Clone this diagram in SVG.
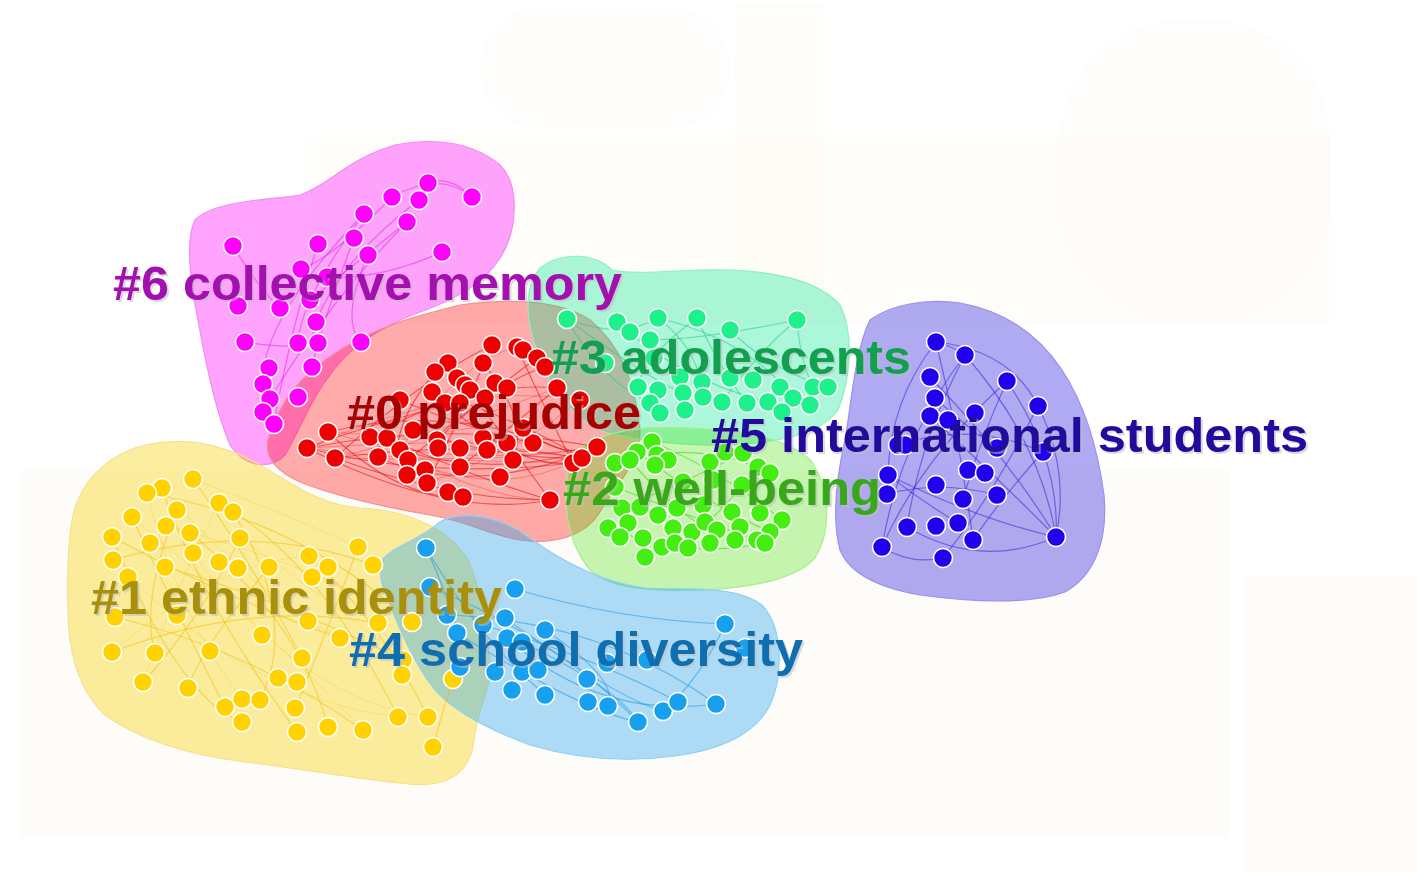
<svg xmlns="http://www.w3.org/2000/svg" width="1417" height="872" viewBox="0 0 1417 872">
<style>
.bg{fill:#fdfbf5}
.hull{stroke-width:1.2}
.e{fill:none;stroke-width:1.2;stroke-opacity:0.5}
.f{fill:none;stroke-width:0.8;stroke-opacity:0.35}
.n circle{stroke:#fff;stroke-width:1.6}
.lbl{font-family:"Liberation Sans",Arial,sans-serif;font-weight:bold;font-size:48px}
.sh{fill:#bdbdbd;fill-opacity:0.55}
</style>
<rect width="1417" height="872" fill="#ffffff"/>
<g id="background" fill-opacity="0.7">
<rect class="bg" x="20" y="470" width="1210" height="368"/>
<rect class="bg" x="1245" y="575" width="172" height="297"/>
<rect class="bg" x="310" y="135" width="1020" height="190" fill-opacity="0.5"/>
<rect class="bg" x="735" y="5" width="90" height="320" fill-opacity="0.6"/>
<rect class="bg" x="480" y="8" width="250" height="120" rx="60" fill-opacity="0.4"/>
<rect class="bg" x="1060" y="20" width="270" height="300" rx="120" fill-opacity="0.4"/>
</g>
<g id="hulls">
<path class="hull" fill="#ff00ff" fill-opacity="0.36" stroke="#f08cf0" d="M195,220 C215,200 270,200 300,195 C330,185 345,160 395,145 C430,138 470,140 500,165 C520,185 518,230 500,258 C485,282 455,300 420,312 C385,325 350,345 330,375 C310,400 300,430 285,455 C270,470 245,468 230,445 C215,410 205,360 198,320 C190,280 185,240 195,220 Z"/>
<path class="hull" fill="#ff0000" fill-opacity="0.33" stroke="#f09090" d="M268,440 C280,400 300,375 340,350 C380,325 420,315 460,305 C510,298 560,300 590,320 C620,345 635,380 640,430 C640,465 615,485 598,515 C585,535 555,545 520,540 C490,535 470,522 430,515 C390,508 340,498 300,482 C278,472 264,458 268,440 Z"/>
<path class="hull" fill="#00e690" fill-opacity="0.33" stroke="#8eeec0" d="M540,268 C560,252 595,252 612,270 C640,276 690,268 730,270 C780,272 820,282 840,305 C855,335 850,380 838,410 C820,435 780,442 730,445 C680,446 630,440 598,430 C565,410 545,380 535,345 C525,315 525,285 540,268 Z"/>
<path class="hull" fill="#40e000" fill-opacity="0.3" stroke="#a8ee90" d="M578,450 C600,432 640,425 690,428 C740,430 790,438 812,462 C830,490 832,530 815,558 C795,580 750,588 700,590 C650,592 610,588 590,570 C572,548 565,520 566,490 C567,470 570,458 578,450 Z"/>
<path class="hull" fill="#3020e0" fill-opacity="0.38" stroke="#9c90ee" d="M870,320 C890,305 925,298 960,303 C1000,310 1035,330 1062,370 C1085,405 1098,450 1104,495 C1108,540 1095,575 1065,592 C1030,605 970,602 920,595 C880,588 850,575 840,550 C832,520 836,480 845,440 C852,400 855,350 870,320 Z"/>
<path class="hull" fill="#f8d000" fill-opacity="0.37" stroke="#f5e090" d="M72,520 C78,485 105,455 145,445 C185,436 225,445 260,465 C295,485 320,505 360,508 C410,510 450,530 468,560 C482,590 485,625 490,660 C492,690 478,705 474,740 C470,775 445,790 400,783 C350,778 300,768 245,762 C190,755 140,740 105,715 C78,690 68,650 68,610 C67,575 68,545 72,520 Z"/>
<path class="hull" fill="#1ea0f0" fill-opacity="0.36" stroke="#8ed0f4" d="M382,560 C395,545 420,540 440,522 C460,510 500,515 530,538 C560,560 600,582 645,588 C690,590 735,585 762,605 C785,630 782,680 770,705 C755,735 720,750 675,756 C630,762 580,760 530,745 C490,730 455,712 435,690 C415,665 400,630 388,600 C380,582 378,570 382,560 Z"/>
</g>
<g id="connectors">
<g stroke="#e020e0">
<path class="e" d="M428,183 Q450,175 472,197"/><path class="e" d="M392,197 Q330,260 301,269"/><path class="e" d="M364,214 Q300,300 298,343"/><path class="e" d="M419,200 Q340,260 316,322"/><path class="e" d="M442,252 Q380,280 327,277"/><path class="e" d="M233,246 Q260,290 280,308"/><path class="e" d="M354,238 Q320,330 312,367"/><path class="e" d="M368,255 Q340,320 361,342"/><path class="e" d="M407,222 Q330,300 270,399"/><path class="e" d="M318,244 Q290,330 274,424"/><path class="e" d="M245,342 Q290,350 318,343"/><path class="e" d="M364,214 Q260,320 263,384"/><path class="e" d="M407,222 Q360,260 310,300"/><path class="e" d="M392,197 Q440,170 472,197"/>
</g>
<g stroke="#e00000">
<path class="e" d="M307,448 Q450,420 597,447"/><path class="e" d="M328,432 Q460,400 582,458"/><path class="e" d="M335,458 Q450,500 550,500"/><path class="e" d="M307,448 Q430,480 573,463"/><path class="e" d="M370,437 Q470,380 557,388"/><path class="e" d="M400,450 Q500,480 597,447"/><path class="e" d="M432,392 Q520,420 582,458"/><path class="e" d="M448,363 Q500,430 550,500"/><path class="e" d="M492,345 Q460,420 427,483"/><path class="e" d="M517,347 Q550,420 573,463"/><path class="e" d="M335,458 Q420,380 492,345"/><path class="e" d="M378,457 Q470,500 597,447"/><path class="e" d="M408,460 Q480,400 537,358"/><path class="e" d="M445,403 Q520,470 573,463"/><path class="e" d="M460,467 Q520,420 557,388"/><path class="e" d="M328,432 Q400,500 463,497"/><path class="e" d="M400,400 Q470,430 533,443"/><path class="e" d="M307,448 Q380,420 460,403"/><path class="e" d="M387,438 Q480,480 550,500"/><path class="e" d="M483,363 Q530,420 513,460"/><path class="e" d="M437,440 Q500,380 545,367"/><path class="e" d="M413,430 Q500,460 582,458"/><path class="e" d="M435,372 Q380,440 407,475"/><path class="e" d="M523,428 Q560,460 597,447"/><path class="e" d="M335,458 Q470,440 582,458"/><path class="e" d="M307,448 Q450,520 550,500"/>
<path class="f" d="M307,448 Q460,380 580,400"/><path class="f" d="M328,432 Q450,470 597,447"/><path class="f" d="M335,458 Q460,460 573,463"/><path class="f" d="M370,437 Q480,500 550,500"/><path class="f" d="M307,448 Q440,440 533,443"/><path class="f" d="M328,432 Q470,440 582,458"/><path class="f" d="M378,457 Q450,420 523,428"/><path class="f" d="M400,450 Q460,360 517,347"/><path class="f" d="M335,458 Q450,430 557,388"/><path class="f" d="M307,448 Q460,470 597,447"/><path class="f" d="M408,460 Q500,500 582,458"/><path class="f" d="M427,483 Q520,450 580,400"/>
</g>
<g stroke="#20c880">
<path class="e" d="M567,319 Q620,340 658,318"/><path class="e" d="M567,319 Q650,380 683,393"/><path class="e" d="M658,318 Q700,350 703,397"/><path class="e" d="M697,318 Q720,370 747,403"/><path class="e" d="M797,320 Q760,350 722,402"/><path class="e" d="M797,320 Q800,360 813,387"/><path class="e" d="M617,322 Q680,380 768,402"/><path class="e" d="M697,318 Q640,360 638,387"/><path class="e" d="M730,330 Q770,370 828,387"/><path class="e" d="M797,320 Q700,340 650,340"/><path class="e" d="M658,318 Q750,340 793,398"/><path class="e" d="M567,319 Q600,380 650,403"/>
</g>
<g stroke="#40c818">
<path class="e" d="M615,463 Q690,440 758,467"/><path class="e" d="M608,528 Q690,560 765,543"/><path class="e" d="M637,452 Q700,500 770,532"/><path class="e" d="M652,442 Q720,470 782,520"/><path class="e" d="M615,487 Q700,520 757,540"/><path class="e" d="M622,508 Q690,480 743,453"/><path class="e" d="M645,557 Q700,540 742,485"/><path class="e" d="M630,460 Q690,530 735,540"/>
</g>
<g stroke="#3018d8">
<path class="e" d="M936,342 Q960,440 973,540"/><path class="e" d="M965,355 Q1040,440 1056,537"/><path class="e" d="M1007,381 Q1060,460 1056,537"/><path class="e" d="M1007,381 Q920,460 882,547"/><path class="e" d="M936,342 Q890,400 888,475"/><path class="e" d="M930,377 Q1010,460 1056,537"/><path class="e" d="M1038,406 Q990,500 943,558"/><path class="e" d="M888,475 Q980,520 1056,537"/><path class="e" d="M882,547 Q910,565 943,558"/><path class="e" d="M898,445 Q970,420 1043,452"/><path class="e" d="M965,355 Q920,440 907,527"/><path class="e" d="M1007,381 Q980,440 963,499"/><path class="e" d="M887,494 Q940,480 997,495"/><path class="e" d="M935,398 Q970,430 997,448"/><path class="e" d="M936,342 Q950,345 965,355"/><path class="e" d="M907,527 Q980,570 1056,537"/><path class="e" d="M1043,452 Q1000,500 973,540"/><path class="e" d="M930,416 Q1000,480 1056,537"/><path class="e" d="M888,475 Q920,500 958,523"/><path class="e" d="M965,355 Q900,440 882,547"/><path class="e" d="M1038,406 Q1070,470 1056,537"/><path class="e" d="M936,342 Q1010,350 1038,406"/>
</g>
<g stroke="#f0c000">
<path class="e" d="M193,479 Q250,560 302,658"/><path class="e" d="M112,537 Q230,600 340,638"/><path class="e" d="M113,560 Q250,520 373,565"/><path class="e" d="M162,488 Q200,600 297,732"/><path class="e" d="M112,652 Q250,600 378,623"/><path class="e" d="M147,493 Q300,520 412,622"/><path class="e" d="M240,538 Q200,620 143,682"/><path class="e" d="M115,617 Q250,650 363,730"/><path class="e" d="M132,517 Q180,620 225,707"/><path class="e" d="M219,503 Q320,560 398,717"/><path class="e" d="M177,510 Q140,600 155,653"/><path class="e" d="M190,533 Q300,620 328,727"/><path class="e" d="M269,567 Q200,650 188,688"/><path class="e" d="M309,556 Q380,620 428,717"/><path class="e" d="M358,547 Q320,650 295,708"/><path class="e" d="M112,537 Q180,700 242,722"/><path class="e" d="M165,567 Q280,600 403,660"/><path class="e" d="M233,512 Q300,620 260,700"/><path class="e" d="M453,679 Q440,720 433,747"/>
<path class="f" d="M193,479 Q300,520 358,547"/><path class="f" d="M147,493 Q180,620 242,699"/><path class="f" d="M112,560 Q250,700 398,717"/><path class="f" d="M219,503 Q170,600 143,682"/><path class="f" d="M166,526 Q300,560 412,622"/><path class="f" d="M132,517 Q280,640 363,730"/><path class="f" d="M240,538 Q330,600 403,660"/><path class="f" d="M112,652 Q220,560 309,556"/><path class="f" d="M162,488 Q260,600 340,638"/><path class="f" d="M193,553 Q300,700 428,717"/>
</g>
<g stroke="#1890e0">
<path class="e" d="M426,548 Q480,640 545,695"/><path class="e" d="M430,587 Q560,640 638,722"/><path class="e" d="M447,615 Q600,620 716,704"/><path class="e" d="M505,618 Q620,700 663,711"/><path class="e" d="M457,633 Q580,710 638,722"/><path class="e" d="M515,589 Q620,620 725,624"/><path class="e" d="M483,625 Q600,660 678,702"/><path class="e" d="M545,630 Q620,680 608,706"/><path class="e" d="M507,638 Q600,720 716,704"/><path class="e" d="M426,548 Q450,600 457,633"/><path class="e" d="M522,642 Q620,690 638,722"/><path class="e" d="M725,624 Q700,680 663,711"/>
</g>
</g>
<g id="cluster-6" class="n" fill="#ff00ff">
<circle cx="428" cy="183" r="9.5"/><circle cx="392" cy="197" r="9.5"/><circle cx="419" cy="200" r="9.5"/><circle cx="472" cy="197" r="9.5"/><circle cx="364" cy="214" r="9.5"/><circle cx="407" cy="222" r="9.5"/><circle cx="233" cy="246" r="9.5"/><circle cx="318" cy="244" r="9.5"/><circle cx="354" cy="238" r="9.5"/><circle cx="368" cy="255" r="9.5"/><circle cx="442" cy="252" r="9.5"/><circle cx="301" cy="269" r="9.5"/><circle cx="327" cy="277" r="9.5"/><circle cx="310" cy="300" r="9.5"/><circle cx="238" cy="306" r="9.5"/><circle cx="280" cy="308" r="9.5"/><circle cx="316" cy="322" r="9.5"/><circle cx="245" cy="342" r="9.5"/><circle cx="298" cy="343" r="9.5"/><circle cx="318" cy="343" r="9.5"/><circle cx="361" cy="342" r="9.5"/><circle cx="269" cy="368" r="9.5"/><circle cx="312" cy="367" r="9.5"/><circle cx="263" cy="384" r="9.5"/><circle cx="298" cy="397" r="9.5"/><circle cx="270" cy="399" r="9.5"/><circle cx="263" cy="412" r="9.5"/><circle cx="274" cy="424" r="9.5"/>
</g>
<g id="cluster-0" class="n" fill="#ee0000">
<circle cx="492" cy="345" r="9.5"/><circle cx="517" cy="347" r="9.5"/><circle cx="523" cy="350" r="9.5"/><circle cx="537" cy="358" r="9.5"/><circle cx="545" cy="367" r="9.5"/><circle cx="448" cy="363" r="9.5"/><circle cx="435" cy="372" r="9.5"/><circle cx="483" cy="363" r="9.5"/><circle cx="457" cy="378" r="9.5"/><circle cx="465" cy="385" r="9.5"/><circle cx="470" cy="390" r="9.5"/><circle cx="495" cy="383" r="9.5"/><circle cx="507" cy="388" r="9.5"/><circle cx="557" cy="388" r="9.5"/><circle cx="432" cy="392" r="9.5"/><circle cx="485" cy="398" r="9.5"/><circle cx="445" cy="403" r="9.5"/><circle cx="460" cy="403" r="9.5"/><circle cx="580" cy="400" r="9.5"/><circle cx="400" cy="400" r="9.5"/><circle cx="328" cy="432" r="9.5"/><circle cx="307" cy="448" r="9.5"/><circle cx="335" cy="458" r="9.5"/><circle cx="370" cy="437" r="9.5"/><circle cx="387" cy="438" r="9.5"/><circle cx="378" cy="457" r="9.5"/><circle cx="400" cy="450" r="9.5"/><circle cx="408" cy="460" r="9.5"/><circle cx="413" cy="430" r="9.5"/><circle cx="437" cy="440" r="9.5"/><circle cx="438" cy="448" r="9.5"/><circle cx="460" cy="448" r="9.5"/><circle cx="483" cy="438" r="9.5"/><circle cx="487" cy="450" r="9.5"/><circle cx="507" cy="443" r="9.5"/><circle cx="533" cy="443" r="9.5"/><circle cx="523" cy="428" r="9.5"/><circle cx="513" cy="460" r="9.5"/><circle cx="500" cy="477" r="9.5"/><circle cx="460" cy="467" r="9.5"/><circle cx="425" cy="470" r="9.5"/><circle cx="407" cy="475" r="9.5"/><circle cx="427" cy="483" r="9.5"/><circle cx="448" cy="492" r="9.5"/><circle cx="463" cy="497" r="9.5"/><circle cx="550" cy="500" r="9.5"/><circle cx="573" cy="463" r="9.5"/><circle cx="582" cy="458" r="9.5"/><circle cx="597" cy="447" r="9.5"/>
</g>
<g id="cluster-3" class="n" fill="#1ef08c">
<circle cx="567" cy="319" r="9.5"/><circle cx="617" cy="322" r="9.5"/><circle cx="630" cy="332" r="9.5"/><circle cx="658" cy="318" r="9.5"/><circle cx="697" cy="318" r="9.5"/><circle cx="730" cy="330" r="9.5"/><circle cx="797" cy="320" r="9.5"/><circle cx="650" cy="340" r="9.5"/><circle cx="605" cy="363" r="9.5"/><circle cx="654" cy="358" r="9.5"/><circle cx="680" cy="377" r="9.5"/><circle cx="730" cy="378" r="9.5"/><circle cx="753" cy="380" r="9.5"/><circle cx="780" cy="387" r="9.5"/><circle cx="813" cy="387" r="9.5"/><circle cx="828" cy="387" r="9.5"/><circle cx="638" cy="387" r="9.5"/><circle cx="658" cy="390" r="9.5"/><circle cx="683" cy="393" r="9.5"/><circle cx="702" cy="382" r="9.5"/><circle cx="703" cy="397" r="9.5"/><circle cx="722" cy="402" r="9.5"/><circle cx="747" cy="403" r="9.5"/><circle cx="768" cy="402" r="9.5"/><circle cx="793" cy="398" r="9.5"/><circle cx="650" cy="403" r="9.5"/><circle cx="660" cy="413" r="9.5"/><circle cx="685" cy="410" r="9.5"/><circle cx="782" cy="412" r="9.5"/><circle cx="810" cy="405" r="9.5"/>
</g>
<g id="cluster-2" class="n" fill="#44ee11">
<circle cx="652" cy="442" r="9.5"/><circle cx="637" cy="452" r="9.5"/><circle cx="657" cy="455" r="9.5"/><circle cx="668" cy="460" r="9.5"/><circle cx="615" cy="463" r="9.5"/><circle cx="630" cy="460" r="9.5"/><circle cx="655" cy="465" r="9.5"/><circle cx="710" cy="462" r="9.5"/><circle cx="725" cy="452" r="9.5"/><circle cx="743" cy="453" r="9.5"/><circle cx="758" cy="467" r="9.5"/><circle cx="770" cy="473" r="9.5"/><circle cx="615" cy="487" r="9.5"/><circle cx="683" cy="482" r="9.5"/><circle cx="713" cy="480" r="9.5"/><circle cx="742" cy="485" r="9.5"/><circle cx="622" cy="508" r="9.5"/><circle cx="640" cy="507" r="9.5"/><circle cx="658" cy="515" r="9.5"/><circle cx="677" cy="508" r="9.5"/><circle cx="703" cy="505" r="9.5"/><circle cx="732" cy="512" r="9.5"/><circle cx="760" cy="513" r="9.5"/><circle cx="782" cy="520" r="9.5"/><circle cx="608" cy="528" r="9.5"/><circle cx="628" cy="523" r="9.5"/><circle cx="643" cy="538" r="9.5"/><circle cx="620" cy="537" r="9.5"/><circle cx="673" cy="528" r="9.5"/><circle cx="692" cy="532" r="9.5"/><circle cx="705" cy="522" r="9.5"/><circle cx="717" cy="530" r="9.5"/><circle cx="740" cy="527" r="9.5"/><circle cx="770" cy="532" r="9.5"/><circle cx="757" cy="540" r="9.5"/><circle cx="662" cy="547" r="9.5"/><circle cx="675" cy="543" r="9.5"/><circle cx="688" cy="548" r="9.5"/><circle cx="710" cy="543" r="9.5"/><circle cx="735" cy="540" r="9.5"/><circle cx="765" cy="543" r="9.5"/><circle cx="645" cy="557" r="9.5"/>
</g>
<g id="cluster-5" class="n" fill="#2200ee">
<circle cx="936" cy="342" r="9.5"/><circle cx="965" cy="355" r="9.5"/><circle cx="930" cy="377" r="9.5"/><circle cx="1007" cy="381" r="9.5"/><circle cx="935" cy="398" r="9.5"/><circle cx="1038" cy="406" r="9.5"/><circle cx="930" cy="416" r="9.5"/><circle cx="948" cy="420" r="9.5"/><circle cx="975" cy="413" r="9.5"/><circle cx="898" cy="445" r="9.5"/><circle cx="905" cy="445" r="9.5"/><circle cx="997" cy="448" r="9.5"/><circle cx="1043" cy="452" r="9.5"/><circle cx="968" cy="470" r="9.5"/><circle cx="985" cy="473" r="9.5"/><circle cx="888" cy="475" r="9.5"/><circle cx="887" cy="494" r="9.5"/><circle cx="936" cy="485" r="9.5"/><circle cx="997" cy="495" r="9.5"/><circle cx="963" cy="499" r="9.5"/><circle cx="907" cy="527" r="9.5"/><circle cx="936" cy="526" r="9.5"/><circle cx="958" cy="523" r="9.5"/><circle cx="973" cy="540" r="9.5"/><circle cx="882" cy="547" r="9.5"/><circle cx="943" cy="558" r="9.5"/><circle cx="1056" cy="537" r="9.5"/>
</g>
<g id="cluster-1" class="n" fill="#ffd200">
<circle cx="193" cy="479" r="9.5"/><circle cx="162" cy="488" r="9.5"/><circle cx="147" cy="493" r="9.5"/><circle cx="219" cy="503" r="9.5"/><circle cx="233" cy="512" r="9.5"/><circle cx="177" cy="510" r="9.5"/><circle cx="132" cy="517" r="9.5"/><circle cx="166" cy="526" r="9.5"/><circle cx="190" cy="533" r="9.5"/><circle cx="240" cy="538" r="9.5"/><circle cx="112" cy="537" r="9.5"/><circle cx="150" cy="543" r="9.5"/><circle cx="193" cy="553" r="9.5"/><circle cx="113" cy="560" r="9.5"/><circle cx="165" cy="567" r="9.5"/><circle cx="219" cy="562" r="9.5"/><circle cx="238" cy="568" r="9.5"/><circle cx="269" cy="567" r="9.5"/><circle cx="309" cy="556" r="9.5"/><circle cx="328" cy="567" r="9.5"/><circle cx="358" cy="547" r="9.5"/><circle cx="373" cy="565" r="9.5"/><circle cx="312" cy="577" r="9.5"/><circle cx="128" cy="577" r="9.5"/><circle cx="115" cy="617" r="9.5"/><circle cx="177" cy="615" r="9.5"/><circle cx="308" cy="621" r="9.5"/><circle cx="378" cy="623" r="9.5"/><circle cx="412" cy="622" r="9.5"/><circle cx="262" cy="635" r="9.5"/><circle cx="340" cy="638" r="9.5"/><circle cx="112" cy="652" r="9.5"/><circle cx="155" cy="653" r="9.5"/><circle cx="210" cy="651" r="9.5"/><circle cx="302" cy="658" r="9.5"/><circle cx="403" cy="660" r="9.5"/><circle cx="278" cy="678" r="9.5"/><circle cx="297" cy="682" r="9.5"/><circle cx="402" cy="675" r="9.5"/><circle cx="143" cy="682" r="9.5"/><circle cx="188" cy="688" r="9.5"/><circle cx="225" cy="707" r="9.5"/><circle cx="242" cy="699" r="9.5"/><circle cx="260" cy="700" r="9.5"/><circle cx="242" cy="722" r="9.5"/><circle cx="295" cy="708" r="9.5"/><circle cx="297" cy="732" r="9.5"/><circle cx="328" cy="727" r="9.5"/><circle cx="363" cy="730" r="9.5"/><circle cx="398" cy="717" r="9.5"/><circle cx="428" cy="717" r="9.5"/><circle cx="433" cy="747" r="9.5"/><circle cx="453" cy="679" r="9.5"/>
</g>
<g id="cluster-4" class="n" fill="#18a0f0">
<circle cx="426" cy="548" r="9.5"/><circle cx="515" cy="589" r="9.5"/><circle cx="430" cy="587" r="9.5"/><circle cx="447" cy="615" r="9.5"/><circle cx="505" cy="618" r="9.5"/><circle cx="545" cy="630" r="9.5"/><circle cx="457" cy="633" r="9.5"/><circle cx="483" cy="625" r="9.5"/><circle cx="507" cy="638" r="9.5"/><circle cx="522" cy="642" r="9.5"/><circle cx="725" cy="624" r="9.5"/><circle cx="495" cy="672" r="9.5"/><circle cx="522" cy="672" r="9.5"/><circle cx="538" cy="670" r="9.5"/><circle cx="587" cy="679" r="9.5"/><circle cx="512" cy="690" r="9.5"/><circle cx="545" cy="695" r="9.5"/><circle cx="588" cy="702" r="9.5"/><circle cx="608" cy="706" r="9.5"/><circle cx="638" cy="722" r="9.5"/><circle cx="663" cy="711" r="9.5"/><circle cx="678" cy="702" r="9.5"/><circle cx="716" cy="704" r="9.5"/><circle cx="460" cy="667" r="9.5"/><circle cx="607" cy="663" r="9.5"/><circle cx="647" cy="660" r="9.5"/><circle cx="745" cy="648" r="9.5"/>
</g>
<g id="labels" class="lbl">
<text class="sh" x="115" y="302" textLength="509" lengthAdjust="spacingAndGlyphs">#6 collective memory</text>
<text fill="#a40fb0" x="113" y="300" textLength="509" lengthAdjust="spacingAndGlyphs">#6 collective memory</text>
<text class="sh" x="553" y="376" textLength="360" lengthAdjust="spacingAndGlyphs">#3 adolescents</text>
<text fill="#12a050" x="551" y="374" textLength="360" lengthAdjust="spacingAndGlyphs">#3 adolescents</text>
<text class="sh" x="349" y="431" textLength="294" lengthAdjust="spacingAndGlyphs">#0 prejudice</text>
<text fill="#a80000" x="347" y="429" textLength="294" lengthAdjust="spacingAndGlyphs">#0 prejudice</text>
<text class="sh" x="713" y="454" textLength="597" lengthAdjust="spacingAndGlyphs">#5 international students</text>
<text fill="#220a9c" x="711" y="452" textLength="597" lengthAdjust="spacingAndGlyphs">#5 international students</text>
<text class="sh" x="565" y="507" textLength="318" lengthAdjust="spacingAndGlyphs">#2 well-being</text>
<text fill="#38a81a" x="563" y="505" textLength="318" lengthAdjust="spacingAndGlyphs">#2 well-being</text>
<text class="sh" x="93" y="616" textLength="411" lengthAdjust="spacingAndGlyphs">#1 ethnic identity</text>
<text fill="#a8900c" x="91" y="614" textLength="411" lengthAdjust="spacingAndGlyphs">#1 ethnic identity</text>
<text class="sh" x="351" y="668" textLength="454" lengthAdjust="spacingAndGlyphs">#4 school diversity</text>
<text fill="#0f6eb0" x="349" y="666" textLength="454" lengthAdjust="spacingAndGlyphs">#4 school diversity</text>
</g>
</svg>
